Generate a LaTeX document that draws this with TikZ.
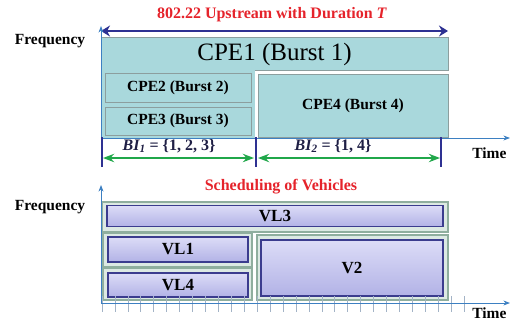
\documentclass[tikz,border=0pt]{standalone}
\usepackage{amsmath,amssymb}
\usepackage{fontspec}
\setmainfont{Liberation Serif}
\usepackage{xcolor}
\usetikzlibrary{arrows.meta,positioning}

\definecolor{tealfill}{HTML}{A9D8DC}
\definecolor{cpeborder}{HTML}{8C9E9E}
\definecolor{titlered}{HTML}{E5232B}
\definecolor{durblue}{HTML}{2E3192}
\definecolor{axisblue}{HTML}{3D80C2}
\definecolor{bigreen}{HTML}{20A74A}
\definecolor{vgreen}{HTML}{DCE9E3}
\definecolor{vborder}{HTML}{8FAE9E}
\definecolor{vblue}{HTML}{3B3C8E}
\definecolor{lavtop}{HTML}{DCDCF7}
\definecolor{lavbot}{HTML}{B2B2E6}
\definecolor{tickgray}{HTML}{A3B3C6}
\definecolor{binavy}{HTML}{1F1F45}

\begin{document}
\begin{tikzpicture}[>=Stealth, x=1pt, y=-1pt,
  lbl/.style={font=\fontsize{15.5}{18}\selectfont\bfseries},
  ttl/.style={font=\fontsize{16}{18}\selectfont\bfseries, text=titlered},
  cpe/.style={draw=cpeborder, fill=tealfill, line width=1pt, inner sep=0pt},
  vouter/.style={draw=vborder, fill=vgreen, line width=1.3pt, inner sep=0pt},
  vinner/.style={draw=vblue, top color=lavtop, bottom color=lavbot, line width=1.2pt,
    inner sep=0pt, font=\fontsize{17}{19}\selectfont\bfseries},
  axis/.style={->, axisblue, line width=0.8pt},
  divider/.style={durblue, line width=1.2pt},
  interval/.style={<->, bigreen, line width=1.8pt},
  bilabel/.style={text=binavy, font=\fontsize{16}{18}\selectfont\bfseries},
  tick/.style={tickgray, line width=0.6pt}]
\useasboundingbox (0,0) rectangle (510,322);

% Upstream frame
\node[ttl] (ttop) at (272,15) {802.22 Upstream with Duration \textit{T}};
\node[lbl] (ftop) at (50,41) {Frequency};
\coordinate (d0) at (101,31);
\coordinate (d1) at (448,31);
\draw[{Stealth[length=9pt,width=11pt]}-{Stealth[length=9pt,width=11pt]}, durblue, line width=2.4pt] (d0) -- (d1);

\node[cpe, minimum width=347pt, minimum height=33pt] (cpe1) at (274.5,54)
  {\fontsize{25}{28}\selectfont CPE1 (Burst 1)};
\node[cpe, draw=none, minimum width=154pt, minimum height=68pt] (lcol) at (178,104) {};
\node[cpe, lbl, minimum width=146pt, minimum height=29pt] (cpe2) at (178,88) {CPE2 (Burst 2)};
\node[cpe, lbl, minimum width=146pt, minimum height=28pt] (cpe3) at (178,121) {CPE3 (Burst 3)};
\node[cpe, lbl, minimum width=190pt, minimum height=63pt] (cpe4) at (353,105.5) {CPE4 (Burst 4)};

% Axes
\coordinate (o1) at (101,167);
\coordinate (f1) at (101,26);
\coordinate (s1) at (101,138);
\coordinate (t1) at (510,138);
\draw[axis] (o1) -- (f1);
\draw[axis] (s1) -- (t1);
\node[lbl, anchor=east] (time1) at (510,153) {Time};

% Burst intervals
\foreach \x in {102,256,441}
  \draw[divider] (\x,137) -- (\x,167);
\coordinate (a1) at (103,158);
\coordinate (a2) at (254,158);
\coordinate (a3) at (258,158);
\coordinate (a4) at (440,158);
\draw[interval] (a1) -- (a2);
\draw[interval] (a3) -- (a4);
\node[bilabel] (bi1) at (169,146) {\textit{BI\textsubscript{1}} = \{1, 2, 3\}};
\node[bilabel] (bi2) at (333,146) {\textit{BI\textsubscript{2}} = \{1, 4\}};

% Vehicle scheduling
\node[ttl] (tbot) at (281,187) {Scheduling of Vehicles};
\node[lbl] (fbot) at (50,207) {Frequency};

\node[vouter, minimum width=346pt, minimum height=30pt] (vo3) at (275,217) {};
\node[vinner, minimum width=336pt, minimum height=21pt] (vl3) at (275,216) {VL3};
\node[vouter, minimum width=149pt, minimum height=34pt] (vo1) at (177.5,250) {};
\node[vinner, minimum width=140pt, minimum height=25pt] (vl1) at (178,249.5) {VL1};
\node[vouter, minimum width=149pt, minimum height=32pt] (vo4) at (177.5,284) {};
\node[vinner, minimum width=140pt, minimum height=24pt] (vl4) at (178,285) {VL4};
\node[vouter, minimum width=191pt, minimum height=65pt] (vo2) at (352.5,267.5) {};
\node[vinner, minimum width=182pt, minimum height=56pt] (v2) at (352,268) {V2};

% Time slots
\foreach \i in {0,...,28}
  \draw[tick] ({102+12.93*\i},296) -- ++(0,16);
\coordinate (o2) at (101,303);
\coordinate (f2) at (101,185);
\coordinate (t2) at (510,303);
\draw[axis] (o2) -- (f2);
\draw[axis] (o2) -- (t2);
\node[lbl, anchor=east] (time2) at (510,313) {Time};
\end{tikzpicture}
\end{document}
